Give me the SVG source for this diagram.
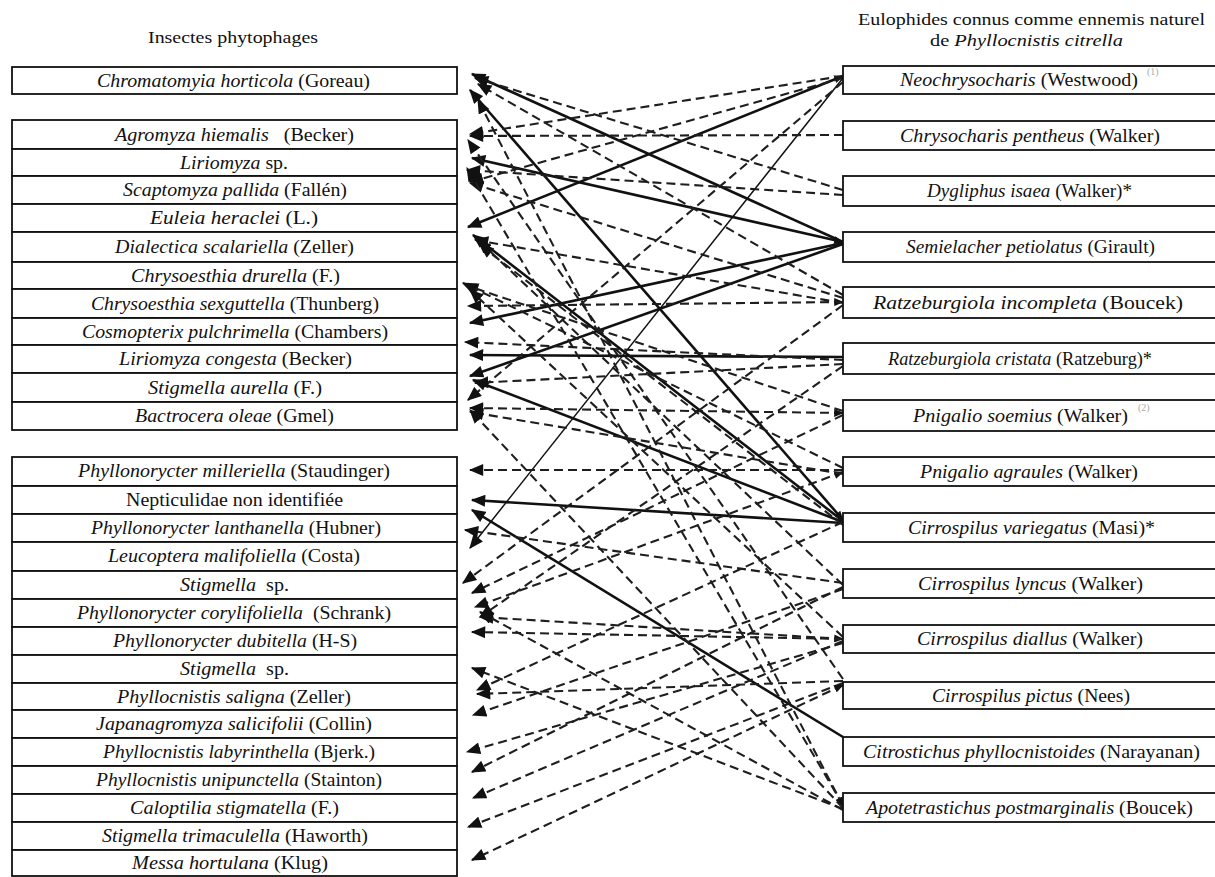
<svg xmlns="http://www.w3.org/2000/svg" width="1215" height="877" viewBox="0 0 1215 877">
<style>
  .box{fill:#fff;stroke:#111;stroke-width:1.8}
  .t{font-family:"Liberation Serif","Times New Roman",serif;font-size:19px;fill:#111}
  .ttl{font-family:"Liberation Serif","Times New Roman",serif;font-size:17px;fill:#111}
  .i{font-style:italic}
  .sup{font-family:"Liberation Serif",serif;font-size:10px;fill:#aaa}
  .s{stroke:#111;stroke-width:2.6;fill:none}
  .st{stroke:#111;stroke-width:1.5;fill:none}
  .d{stroke:#1e1e1e;stroke-width:2.1;stroke-dasharray:9 5;fill:none}
</style>
<defs>
  <marker id="ah" viewBox="0 0 12 10" refX="11" refY="5" markerWidth="15" markerHeight="12" markerUnits="userSpaceOnUse" orient="auto-start-reverse">
    <path d="M0,0 L12,5 L0,10 z" fill="#111"/>
  </marker>
  <marker id="ahs" viewBox="0 0 12 10" refX="11" refY="5" markerWidth="10" markerHeight="8" markerUnits="userSpaceOnUse" orient="auto-start-reverse">
    <path d="M0,0 L12,5 L0,10 z" fill="#111"/>
  </marker>
</defs>
<rect width="1215" height="877" fill="#fff"/>

<text class="ttl" x="148" y="43" textLength="170" lengthAdjust="spacingAndGlyphs">Insectes phytophages</text>
<text class="ttl" x="858" y="25" textLength="347" lengthAdjust="spacingAndGlyphs">Eulophides connus comme ennemis naturel</text>
<text class="ttl" x="930" y="46" textLength="193" lengthAdjust="spacingAndGlyphs">de <tspan class="i">Phyllocnistis citrella</tspan></text>

<!-- connectors -->
<g id="connectors">
  <!-- solid -->
  <line class="s" x1="843" y1="242" x2="472" y2="74" marker-end="url(#ah)"/>
  <line class="s" x1="843" y1="242" x2="472" y2="158" marker-end="url(#ah)" marker-start="url(#ahs)"/>
  <line class="s" x1="843" y1="243" x2="470" y2="323" marker-end="url(#ah)"/>
  <line class="s" x1="843" y1="244" x2="470" y2="376" marker-end="url(#ah)"/>
  <line class="s" x1="843" y1="76" x2="468" y2="227" marker-end="url(#ah)" marker-start="url(#ahs)"/>
  <line class="s" x1="843" y1="520" x2="470" y2="90" marker-end="url(#ah)" marker-start="url(#ahs)"/>
  <line class="s" x1="843" y1="521" x2="473" y2="235" marker-end="url(#ah)"/>
  <line class="s" x1="843" y1="522" x2="473" y2="380" marker-end="url(#ah)"/>
  <line class="s" x1="843" y1="523" x2="472" y2="500" marker-end="url(#ah)"/>
  <line class="s" x1="843" y1="357" x2="470" y2="355" marker-end="url(#ah)"/>
  <line class="s" x1="843" y1="737" x2="472" y2="510" marker-end="url(#ah)"/>
  <line class="st" x1="843" y1="78" x2="470" y2="548" marker-end="url(#ah)"/>
  <!-- dashed -->
  <line class="d" x1="843" y1="76" x2="470" y2="134" marker-end="url(#ah)"/>
  <line class="d" x1="843" y1="78" x2="470" y2="182" marker-end="url(#ah)"/>
  <line class="d" x1="843" y1="82" x2="468" y2="400" marker-end="url(#ah)"/>
  <line class="d" x1="843" y1="135" x2="470" y2="136" marker-end="url(#ah)"/>
  <line class="d" x1="843" y1="190" x2="475" y2="78" marker-end="url(#ah)"/>
  <line class="d" x1="843" y1="195" x2="467" y2="170" marker-end="url(#ah)"/>
  <line class="d" x1="843" y1="295" x2="478" y2="84" marker-end="url(#ah)"/>
  <line class="d" x1="843" y1="298" x2="470" y2="183" marker-end="url(#ah)"/>
  <line class="d" x1="843" y1="302" x2="468" y2="306" marker-end="url(#ah)" marker-start="url(#ahs)"/>
  <line class="d" x1="843" y1="305" x2="463" y2="583" marker-end="url(#ah)"/>
  <line class="d" x1="843" y1="303" x2="475" y2="240" marker-end="url(#ah)"/>
  <line class="d" x1="843" y1="360" x2="465" y2="342" marker-end="url(#ah)"/>
  <line class="d" x1="843" y1="364" x2="475" y2="383" marker-end="url(#ah)"/>
  <line class="d" x1="843" y1="366" x2="480" y2="617" marker-end="url(#ah)"/>
  <line class="d" x1="843" y1="413" x2="470" y2="408" marker-end="url(#ah)" marker-start="url(#ahs)"/>
  <line class="d" x1="843" y1="415" x2="472" y2="593" marker-end="url(#ah)"/>
  <line class="d" x1="843" y1="411" x2="465" y2="285" marker-end="url(#ah)"/>
  <line class="d" x1="843" y1="470" x2="470" y2="470" marker-end="url(#ah)"/>
  <line class="d" x1="843" y1="468" x2="463" y2="283" marker-end="url(#ah)"/>
  <line class="d" x1="843" y1="472" x2="475" y2="607" marker-end="url(#ah)" marker-start="url(#ahs)"/>
  <line class="d" x1="843" y1="474" x2="470" y2="412" marker-end="url(#ah)"/>
  <line class="d" x1="843" y1="522" x2="477" y2="690" marker-end="url(#ah)"/>
  <line class="d" x1="843" y1="525" x2="480" y2="245" marker-end="url(#ah)"/>
  <line class="d" x1="843" y1="583" x2="465" y2="530" marker-end="url(#ah)"/>
  <line class="d" x1="843" y1="585" x2="478" y2="240" marker-end="url(#ah)"/>
  <line class="d" x1="843" y1="587" x2="472" y2="772" marker-end="url(#ah)"/>
  <line class="d" x1="843" y1="589" x2="473" y2="715" marker-end="url(#ah)"/>
  <line class="d" x1="843" y1="639" x2="480" y2="617" marker-end="url(#ah)" marker-start="url(#ahs)"/>
  <line class="d" x1="843" y1="639" x2="472" y2="632" marker-end="url(#ah)"/>
  <line class="d" x1="843" y1="641" x2="473" y2="798" marker-end="url(#ah)"/>
  <line class="d" x1="843" y1="643" x2="467" y2="752" marker-end="url(#ah)"/>
  <line class="d" x1="843" y1="637" x2="470" y2="290" marker-end="url(#ah)"/>
  <line class="d" x1="843" y1="683" x2="468" y2="827" marker-end="url(#ah)"/>
  <line class="d" x1="843" y1="685" x2="472" y2="860" marker-end="url(#ah)" marker-start="url(#ahs)"/>
  <line class="d" x1="843" y1="681" x2="477" y2="694" marker-end="url(#ah)"/>
  <line class="d" x1="843" y1="679" x2="468" y2="140" marker-end="url(#ah)"/>
  <line class="d" x1="843" y1="805" x2="467" y2="168" marker-end="url(#ah)"/>
  <line class="d" x1="843" y1="806" x2="478" y2="100" marker-end="url(#ah)" marker-start="url(#ahs)"/>
  <line class="d" x1="843" y1="808" x2="470" y2="410" marker-end="url(#ah)"/>
  <line class="d" x1="843" y1="809" x2="472" y2="668" marker-end="url(#ah)"/>
  <line class="d" x1="843" y1="810" x2="480" y2="612" marker-end="url(#ah)"/>
</g>

<!-- left nodes -->
<g id="h-chromatomyia"><rect class="box" x="12" y="67" width="445" height="27"/><text class="t" x="97" y="87" textLength="273" lengthAdjust="spacingAndGlyphs"><tspan class="i">Chromatomyia horticola</tspan> (Goreau)</text></g>
<g id="h-agromyza"><rect class="box" x="12" y="120" width="445" height="29"/><text class="t" x="115" y="141" textLength="239" lengthAdjust="spacingAndGlyphs" xml:space="preserve"><tspan class="i">Agromyza hiemalis</tspan>   (Becker)</text></g>
<g id="h-liriomyza-sp"><rect class="box" x="12" y="149" width="445" height="27"/><text class="t" x="180" y="169" textLength="108" lengthAdjust="spacingAndGlyphs"><tspan class="i">Liriomyza</tspan> sp.</text></g>
<g id="h-scaptomyza"><rect class="box" x="12" y="176" width="445" height="28"/><text class="t" x="123" y="196" textLength="224" lengthAdjust="spacingAndGlyphs"><tspan class="i">Scaptomyza pallida</tspan> (Fallén)</text></g>
<g id="h-euleia"><rect class="box" x="12" y="204" width="445" height="28"/><text class="t" x="150" y="224" textLength="168" lengthAdjust="spacingAndGlyphs"><tspan class="i">Euleia heraclei</tspan> (L.)</text></g>
<g id="h-dialectica"><rect class="box" x="12" y="232" width="445" height="30"/><text class="t" x="115" y="253" textLength="239" lengthAdjust="spacingAndGlyphs"><tspan class="i">Dialectica scalariella</tspan> (Zeller)</text></g>
<g id="h-drurella"><rect class="box" x="12" y="262" width="445" height="27"/><text class="t" x="131" y="282" textLength="209" lengthAdjust="spacingAndGlyphs"><tspan class="i">Chrysoesthia drurella</tspan> (F.)</text></g>
<g id="h-sexguttella"><rect class="box" x="12" y="289" width="445" height="29"/><text class="t" x="91" y="310" textLength="288" lengthAdjust="spacingAndGlyphs"><tspan class="i">Chrysoesthia sexguttella</tspan> (Thunberg)</text></g>
<g id="h-cosmopterix"><rect class="box" x="12" y="318" width="445" height="27"/><text class="t" x="82" y="338" textLength="306" lengthAdjust="spacingAndGlyphs"><tspan class="i">Cosmopterix pulchrimella</tspan> (Chambers)</text></g>
<g id="h-congesta"><rect class="box" x="12" y="345" width="445" height="28"/><text class="t" x="119" y="365" textLength="233" lengthAdjust="spacingAndGlyphs"><tspan class="i">Liriomyza congesta</tspan> (Becker)</text></g>
<g id="h-aurella"><rect class="box" x="12" y="373" width="445" height="29"/><text class="t" x="148" y="394" textLength="174" lengthAdjust="spacingAndGlyphs"><tspan class="i">Stigmella aurella</tspan> (F.)</text></g>
<g id="h-bactrocera"><rect class="box" x="12" y="402" width="445" height="28"/><text class="t" x="135" y="422" textLength="199" lengthAdjust="spacingAndGlyphs"><tspan class="i">Bactrocera oleae</tspan> (Gmel)</text></g>

<g id="h-milleriella"><rect class="box" x="12" y="457" width="445" height="29"/><text class="t" x="78" y="477" textLength="312" lengthAdjust="spacingAndGlyphs"><tspan class="i">Phyllonorycter milleriella</tspan> (Staudinger)</text></g>
<g id="h-nepticulidae"><rect class="box" x="12" y="486" width="445" height="28"/><text class="t" x="126" y="506" textLength="217" lengthAdjust="spacingAndGlyphs">Nepticulidae non identifiée</text></g>
<g id="h-lanthanella"><rect class="box" x="12" y="514" width="445" height="28"/><text class="t" x="91" y="534" textLength="290" lengthAdjust="spacingAndGlyphs"><tspan class="i">Phyllonorycter lanthanella</tspan> (Hubner)</text></g>
<g id="h-leucoptera"><rect class="box" x="12" y="542" width="445" height="29"/><text class="t" x="108" y="562" textLength="252" lengthAdjust="spacingAndGlyphs"><tspan class="i">Leucoptera malifoliella</tspan> (Costa)</text></g>
<g id="h-stigmella-sp1"><rect class="box" x="12" y="571" width="445" height="28"/><text class="t" x="180" y="591" textLength="109" lengthAdjust="spacingAndGlyphs" xml:space="preserve"><tspan class="i">Stigmella</tspan>  sp.</text></g>
<g id="h-corylifoliella"><rect class="box" x="12" y="599" width="445" height="28"/><text class="t" x="77" y="619" textLength="314" lengthAdjust="spacingAndGlyphs" xml:space="preserve"><tspan class="i">Phyllonorycter corylifoliella</tspan>  (Schrank)</text></g>
<g id="h-dubitella"><rect class="box" x="12" y="627" width="445" height="28"/><text class="t" x="113" y="647" textLength="244" lengthAdjust="spacingAndGlyphs"><tspan class="i">Phyllonorycter dubitella</tspan> (H-S)</text></g>
<g id="h-stigmella-sp2"><rect class="box" x="12" y="655" width="445" height="28"/><text class="t" x="180" y="675" textLength="109" lengthAdjust="spacingAndGlyphs" xml:space="preserve"><tspan class="i">Stigmella</tspan>  sp.</text></g>
<g id="h-saligna"><rect class="box" x="12" y="683" width="445" height="27"/><text class="t" x="117" y="703" textLength="234" lengthAdjust="spacingAndGlyphs"><tspan class="i">Phyllocnistis saligna</tspan> (Zeller)</text></g>
<g id="h-japanagromyza"><rect class="box" x="12" y="710" width="445" height="28"/><text class="t" x="96" y="730" textLength="276" lengthAdjust="spacingAndGlyphs"><tspan class="i">Japanagromyza salicifolii</tspan> (Collin)</text></g>
<g id="h-labyrinthella"><rect class="box" x="12" y="738" width="445" height="28"/><text class="t" x="103" y="758" textLength="272" lengthAdjust="spacingAndGlyphs"><tspan class="i">Phyllocnistis labyrinthella</tspan> (Bjerk.)</text></g>
<g id="h-unipunctella"><rect class="box" x="12" y="766" width="445" height="28"/><text class="t" x="96" y="786" textLength="286" lengthAdjust="spacingAndGlyphs"><tspan class="i">Phyllocnistis unipunctella</tspan> (Stainton)</text></g>
<g id="h-caloptilia"><rect class="box" x="12" y="794" width="445" height="28"/><text class="t" x="130" y="814" textLength="209" lengthAdjust="spacingAndGlyphs"><tspan class="i">Caloptilia stigmatella</tspan> (F.)</text></g>
<g id="h-trimaculella"><rect class="box" x="12" y="822" width="445" height="28"/><text class="t" x="102" y="842" textLength="266" lengthAdjust="spacingAndGlyphs"><tspan class="i">Stigmella trimaculella</tspan> (Haworth)</text></g>
<g id="h-messa"><rect class="box" x="12" y="850" width="445" height="26"/><text class="t" x="132" y="869" textLength="196" lengthAdjust="spacingAndGlyphs"><tspan class="i">Messa hortulana</tspan> (Klug)</text></g>

<!-- right nodes -->
<g id="p-neochrysocharis"><rect class="box" x="843" y="66" width="374" height="28"/><text class="t" x="900" y="86" textLength="238" lengthAdjust="spacingAndGlyphs"><tspan class="i">Neochrysocharis</tspan> (Westwood)</text><text class="sup" x="1147" y="75">(1)</text></g>
<g id="p-chrysocharis"><rect class="box" x="843" y="121" width="374" height="29"/><text class="t" x="900" y="142" textLength="260" lengthAdjust="spacingAndGlyphs"><tspan class="i">Chrysocharis pentheus</tspan> (Walker)</text></g>
<g id="p-dygliphus"><rect class="box" x="843" y="176" width="374" height="30"/><text class="t" x="927" y="197" textLength="205" lengthAdjust="spacingAndGlyphs"><tspan class="i">Dygliphus isaea</tspan> (Walker)*</text></g>
<g id="p-semielacher"><rect class="box" x="843" y="232" width="374" height="30"/><text class="t" x="906" y="253" textLength="249" lengthAdjust="spacingAndGlyphs"><tspan class="i">Semielacher petiolatus</tspan> (Girault)</text></g>
<g id="p-ratz-incompleta"><rect class="box" x="843" y="287" width="374" height="31"/><text class="t" x="873" y="309" textLength="310" lengthAdjust="spacingAndGlyphs"><tspan class="i">Ratzeburgiola incompleta</tspan> (Boucek)</text></g>
<g id="p-ratz-cristata"><rect class="box" x="843" y="343" width="374" height="31"/><text class="t" x="888" y="365" textLength="264" lengthAdjust="spacingAndGlyphs"><tspan class="i">Ratzeburgiola cristata</tspan> (Ratzeburg)*</text></g>
<g id="p-pnigalio-soemius"><rect class="box" x="843" y="400" width="374" height="31"/><text class="t" x="913" y="422" textLength="215" lengthAdjust="spacingAndGlyphs"><tspan class="i">Pnigalio soemius</tspan> (Walker)</text><text class="sup" x="1138" y="411">(2)</text></g>
<g id="p-pnigalio-agraules"><rect class="box" x="843" y="457" width="374" height="29"/><text class="t" x="920" y="478" textLength="218" lengthAdjust="spacingAndGlyphs"><tspan class="i">Pnigalio agraules</tspan> (Walker)</text></g>
<g id="p-cirro-variegatus"><rect class="box" x="843" y="513" width="374" height="29"/><text class="t" x="908" y="534" textLength="247" lengthAdjust="spacingAndGlyphs"><tspan class="i">Cirrospilus variegatus</tspan> (Masi)*</text></g>
<g id="p-cirro-lyncus"><rect class="box" x="843" y="569" width="374" height="29"/><text class="t" x="918" y="590" textLength="225" lengthAdjust="spacingAndGlyphs"><tspan class="i">Cirrospilus lyncus</tspan> (Walker)</text></g>
<g id="p-cirro-diallus"><rect class="box" x="843" y="625" width="374" height="28"/><text class="t" x="917" y="645" textLength="226" lengthAdjust="spacingAndGlyphs"><tspan class="i">Cirrospilus diallus</tspan> (Walker)</text></g>
<g id="p-cirro-pictus"><rect class="box" x="843" y="682" width="374" height="27"/><text class="t" x="932" y="702" textLength="198" lengthAdjust="spacingAndGlyphs"><tspan class="i">Cirrospilus pictus</tspan> (Nees)</text></g>
<g id="p-citrostichus"><rect class="box" x="843" y="737" width="374" height="29"/><text class="t" x="863" y="758" textLength="337" lengthAdjust="spacingAndGlyphs"><tspan class="i">Citrostichus phyllocnistoides</tspan> (Narayanan)</text></g>
<g id="p-apotetrastichus"><rect class="box" x="843" y="793" width="374" height="29"/><text class="t" x="866" y="814" textLength="327" lengthAdjust="spacingAndGlyphs"><tspan class="i">Apotetrastichus postmarginalis</tspan> (Boucek)</text></g>
</svg>
